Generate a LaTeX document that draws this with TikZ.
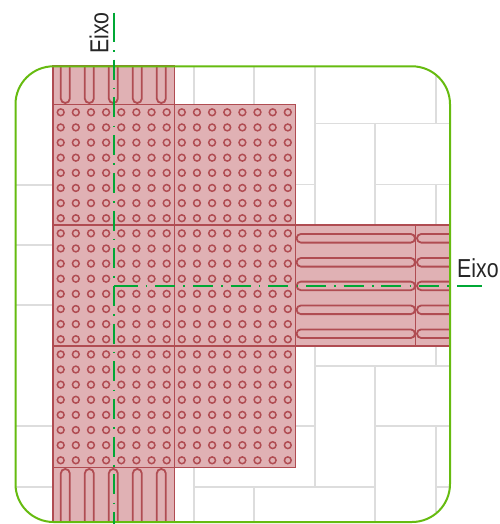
\documentclass[tikz,border=0pt]{standalone}
\usepackage{fontspec}
\setmainfont{Liberation Sans}
\definecolor{piso}{HTML}{DDDDDD}
\definecolor{placa}{HTML}{E0B1B4}
\definecolor{relevo}{HTML}{B04C52}
\definecolor{borda}{HTML}{66BB10}
\definecolor{eixo}{HTML}{00A835}
\newcommand{\eixotext}{\scalebox{0.82}[1]{Eixo}}
\tikzset{
    pisoline/.style={draw=piso, line width=1.9pt},
    placabox/.style={fill=placa, draw=relevo, line width=1.2pt},
    domo/.style={draw=relevo, line width=1.5pt},
    barra/.style={draw=relevo, line width=1.8pt},
    eixoline/.style={draw=eixo, line width=2.1pt, dash pattern=on 20pt off 8.2pt on 1.6pt off 7.9pt},
    eixostub/.style={draw=eixo, line width=2.1pt},
    eixolabel/.style={inner sep=0pt, font=\fontsize{26}{26}\selectfont, text=black!85}
}
\begin{document}
\begin{tikzpicture}[x=1pt, y=-1pt]
    \useasboundingbox (0,0) rectangle (499,524);

    % Paving joints behind everything
    \draw[pisoline] (193.7,66) -- (193.7,104);
    \draw[pisoline] (254,66) -- (254,104);
    \draw[pisoline] (314.7,66) -- (314.7,225);
    \draw[pisoline] (435.7,75) -- (435.7,123.5);
    \draw[pisoline] (314.7,123.5) -- (450,123.5);
    \draw[pisoline] (375,123.5) -- (375,225);
    \draw[pisoline] (375,184.5) -- (450,184.5);
    \draw[pisoline] (295,184.5) -- (314.7,184.5);
    \draw[pisoline] (435.7,184.5) -- (435.7,225);

    \draw[pisoline] (314.7,346) -- (314.7,486.8);
    \draw[pisoline] (314.7,365.8) -- (450,365.8);
    \draw[pisoline] (435.7,346) -- (435.7,365.8);
    \draw[pisoline] (375,365.8) -- (375,522);
    \draw[pisoline] (375,426.2) -- (450,426.2);
    \draw[pisoline] (295,426.2) -- (314.7,426.2);
    \draw[pisoline] (435.7,426.2) -- (435.7,512);
    \draw[pisoline] (435.7,486.8) -- (450,486.8);
    \draw[pisoline] (193.7,467) -- (193.7,522);
    \draw[pisoline] (193.7,486.8) -- (375,486.8);
    \draw[pisoline] (254,486.8) -- (254,522);

    % Joints left of the plates
    \foreach \y in {184.6,244.8,305.3,426.2,486.8}
        \draw[pisoline] (15,\y) -- (53,\y);

    % Plates
    \draw[placabox] (53,66) rectangle (174.3,104.5);
    \draw[placabox] (53,467.5) rectangle (174.3,522);
    \draw[placabox] (53,104.5) rectangle (174.3,225);
    \draw[placabox] (53,225) rectangle (174.3,346);
    \draw[placabox] (53,346) rectangle (174.3,467.5);
    \draw[placabox] (174.3,104.5) rectangle (295.5,225);
    \draw[placabox] (174.3,225) rectangle (295.5,346);
    \draw[placabox] (174.3,346) rectangle (295.5,467.5);
    \draw[placabox] (295.5,225) rectangle (416,346);
    \draw[placabox] (416,225) -- (450,225) -- (450,346) -- (416,346);

    % Warning domes
    \foreach \i in {0,...,23}
        \foreach \j in {0,...,15}
            \draw[domo] ({60.7+15.14*\j},{112.3+15.13*\i}) circle (3.4);

    % Guide bars, top and bottom
    \begin{scope}
        \clip (53,66) rectangle (174.3,104.5);
        \foreach \x in {65.3,89.3,113.3,137.3,161.3}
            \draw[barra, rounded corners=4.4] (\x-4.5,55) -- (\x-4.5,103) -- (\x+4.5,103) -- (\x+4.5,55);
    \end{scope}
    \begin{scope}
        \clip (53,467.5) rectangle (174.3,522);
        \foreach \x in {65.3,89.3,113.3,137.3,161.3}
            \draw[barra, rounded corners=4.4] (\x-4.5,535) -- (\x-4.5,469) -- (\x+4.5,469) -- (\x+4.5,535);
    \end{scope}

    % Guide bars, right
    \begin{scope}
        \clip (295.5,225) rectangle (450,346);
        \foreach \y in {238.3,262.3,285.9,309.8,333.7} {
            \draw[barra, rounded corners=4.2] (296.6,\y-4.3) rectangle (415,\y+4.3);
            \draw[barra, rounded corners=4.2] (417,\y-4.3) rectangle (470,\y+4.3);
        }
    \end{scope}

    % Limit of the area
    \draw[draw=borda, line width=2pt, rounded corners=38] (15.5,66.3) rectangle (450,522);

    % Axes
    \coordinate (eixoTop) at (114,12.7);
    \coordinate (eixoTopDash) at (114,22);
    \coordinate (eixoBottom) at (114,524);
    \coordinate (eixoCorner) at (114,286.4);
    \coordinate (eixoStart) at (117.5,286.4);
    \coordinate (eixoEnd) at (457,286.4);
    \coordinate (eixoRight) at (482.3,286.4);
    \draw[eixostub] (eixoTop) -- (eixoTopDash);
    \draw[eixoline] (eixoTopDash) -- (eixoBottom);
    \draw[eixostub] (eixoCorner) -- (eixoStart);
    \draw[eixoline] (eixoStart) -- (eixoEnd);
    \draw[eixostub] (eixoEnd) -- (eixoRight);

    % Labels
    \node[eixolabel, anchor=base west, rotate=90] (eixoV) at (108.3,54) {\eixotext};
    \node[eixolabel, anchor=base west] (eixoH) at (457,277.3) {\eixotext};
\end{tikzpicture}
\end{document}
